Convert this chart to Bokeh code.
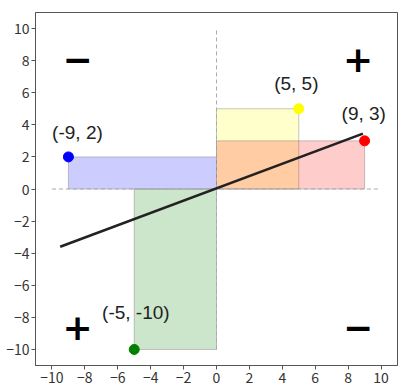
from bokeh.plotting import figure
from bokeh.models import Range1d, ColumnDataSource, FixedTicker
from bokeh.core.properties import value
from bokeh.embed import file_html
from bokeh.resources import INLINE

# data points
pt_x = [-9, 5, 9, -5]
pt_y = [2, 5, 3, -10]
pt_colors = ["blue", "yellow", "red", "green"]
pt_labels = ["(-9, 2)", "(5, 5)", "(9, 3)", "(-5, -10)"]

# fitted line end points
line_x = [-9.5, 8.9]
line_y = [-3.6, 3.45]

# quadrant signs
sign_x = [-8.45, 8.6, -8.45, 8.6]
sign_y = [8.1, 8.1, -8.6, -8.6]
sign_text = ["\u2212", "+", "+", "\u2212"]

ticks = list(range(-10, 11, 2))

FONT = "Noto Sans CJK JP"
LFONT = "Liberation Sans"

p = figure(width=400, height=385, output_backend="svg", toolbar_location=None,
           x_range=Range1d(-11, 11), y_range=Range1d(-11, 11),
           min_border_left=35, min_border_top=12, min_border_right=3, min_border_bottom=20)
p.xgrid.visible = False
p.ygrid.visible = False
p.outline_line_color = "#555555"
p.outline_line_width = 1

# rectangles from origin to each point
rect_src = ColumnDataSource(dict(
    left=[min(0, x) for x in pt_x], right=[max(0, x) for x in pt_x],
    bottom=[min(0, y) for y in pt_y], top=[max(0, y) for y in pt_y],
    color=pt_colors))
p.quad(left="left", right="right", bottom="bottom", top="top", source=rect_src,
       fill_color="color", fill_alpha=0.2, line_color="gray", line_alpha=0.45, line_width=1)

# dashed axes through origin
p.line([-10, 10], [0, 0], line_color="#aaaaaa", line_dash="4 3", line_width=1)
p.line([0, 0], [-10, 10], line_color="#aaaaaa", line_dash="4 3", line_width=1)

# fitted line
p.line(line_x, line_y, line_color="#222222", line_width=2.6)

# points
p.scatter(pt_x, pt_y, size=10, fill_color=pt_colors, line_color=pt_colors)

# labels
lab_dx = [0.55, -0.15, -0.05, 0.1]
lab_dy = [1.5, 1.6, 1.7, 2.3]
p.text([x + dx for x, dx in zip(pt_x, lab_dx)], [y + dy for y, dy in zip(pt_y, lab_dy)],
       text=pt_labels, text_align="center", text_baseline="middle",
       text_font=value(LFONT), text_font_size="19px", text_color="#222222")

# quadrant signs
p.text(sign_x, sign_y, text=sign_text, text_align="center", text_baseline="middle",
       text_font=value("DejaVu Sans"), text_font_style="bold", text_font_size="36px",
       text_color="black")

for ax in (p.xaxis[0], p.yaxis[0]):
    ax.ticker = FixedTicker(ticks=ticks)
    ax.minor_tick_line_color = None
    ax.major_tick_in = 0
    ax.major_tick_out = 4
    ax.major_label_standoff = 2
    ax.axis_line_color = "#555555"
    ax.major_tick_line_color = "#555555"
    ax.major_label_text_font = FONT
    ax.major_label_text_font_size = "14px"
    ax.major_label_text_color = "#333333"
    ax.major_label_overrides = {t: (str(t).replace("-", "\u2212")) for t in ticks}

open("out.html", "w").write(file_html(p, INLINE))
